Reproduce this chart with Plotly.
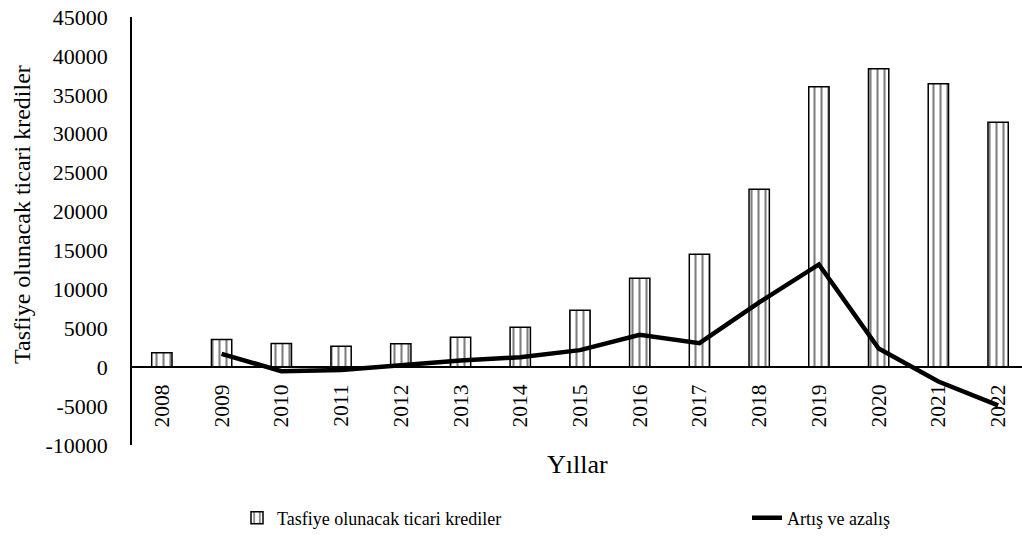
import plotly.graph_objects as go

years = [str(y) for y in range(2008, 2023)]
credits = [1840, 3560, 3050, 2700, 3000, 3860, 5140, 7330, 11440, 14520,
           22850, 36030, 38340, 36410, 31490]
change_years = [str(y) for y in range(2009, 2023)]
change = [1720, -510, -350, 300, 860, 1280, 2190, 4150, 3080, 8330,
          13200, 2400, -1850, -4900]
y_ticks = list(range(-10000, 45001, 5000))
y_tick_text = [str(v) for v in y_ticks]

FONT = "Liberation Serif, Times New Roman, serif"

W, H = 1022, 551

fig = go.Figure()
fig.add_trace(go.Bar(
    x=years, y=credits, name="Tasfiye olunacak ticari krediler",
    width=0.34, legend="legend",
    marker=dict(color="white", line=dict(color="black", width=1.5),
                pattern=dict(shape="|", fgcolor="black", bgcolor="white",
                             size=7, solidity=0.3)),
))
fig.add_trace(go.Scatter(
    x=change_years, y=change, name="Artış ve azalış", mode="lines",
    legend="legend2",
    line=dict(color="black", width=4.5),
))

zero_pos = 10000 / 55000

fig.update_layout(
    width=W, height=H,
    margin=dict(l=132, r=0, t=17, b=106),
    paper_bgcolor="white", plot_bgcolor="white",
    font=dict(family=FONT, color="black", size=20),
    showlegend=True,
    legend=dict(orientation="h", xref="container", yref="container",
                x=237 / W, xanchor="left", y=33 / H, yanchor="middle",
                font=dict(size=18, family=FONT)),
    legend2=dict(orientation="h", xref="container", yref="container",
                 x=747 / W, xanchor="left", y=33 / H, yanchor="middle",
                 font=dict(size=18, family=FONT)),
    bargap=0.5,
    xaxis=dict(type="category", range=[-0.5, 14.4], anchor="free",
               position=zero_pos, showline=True, linecolor="black",
               linewidth=1.5, ticks="outside", ticklen=8,
               tickcolor="rgba(0,0,0,0)", tickangle=-90,
               tickfont=dict(size=21.5, family=FONT), showgrid=False,
               zeroline=False, automargin=False),
    yaxis=dict(range=[-10000, 45000], tickvals=y_ticks, ticktext=y_tick_text,
               showline=True, linecolor="black", linewidth=1.5,
               ticks="outside", ticklen=18, tickcolor="rgba(0,0,0,0)",
               tickfont=dict(size=22, family=FONT), showgrid=False,
               zeroline=False, automargin=False),
    annotations=[
        dict(text="Tasfiye olunacak ticari krediler", textangle=-90,
             xref="paper", yref="paper", x=(22 - 132) / 890,
             y=(445 - 215) / 428,
             xanchor="center", yanchor="middle", showarrow=False,
             font=dict(size=24, family=FONT)),
        dict(text="Yıllar", xref="paper", yref="paper", x=0.5,
             y=-20 / 428, xanchor="center", yanchor="middle",
             showarrow=False, font=dict(size=26, family=FONT)),
    ],
)

fig.write_html("out.html", config={"displayModeBar": False},
               post_script="document.body.style.margin='0px';")
